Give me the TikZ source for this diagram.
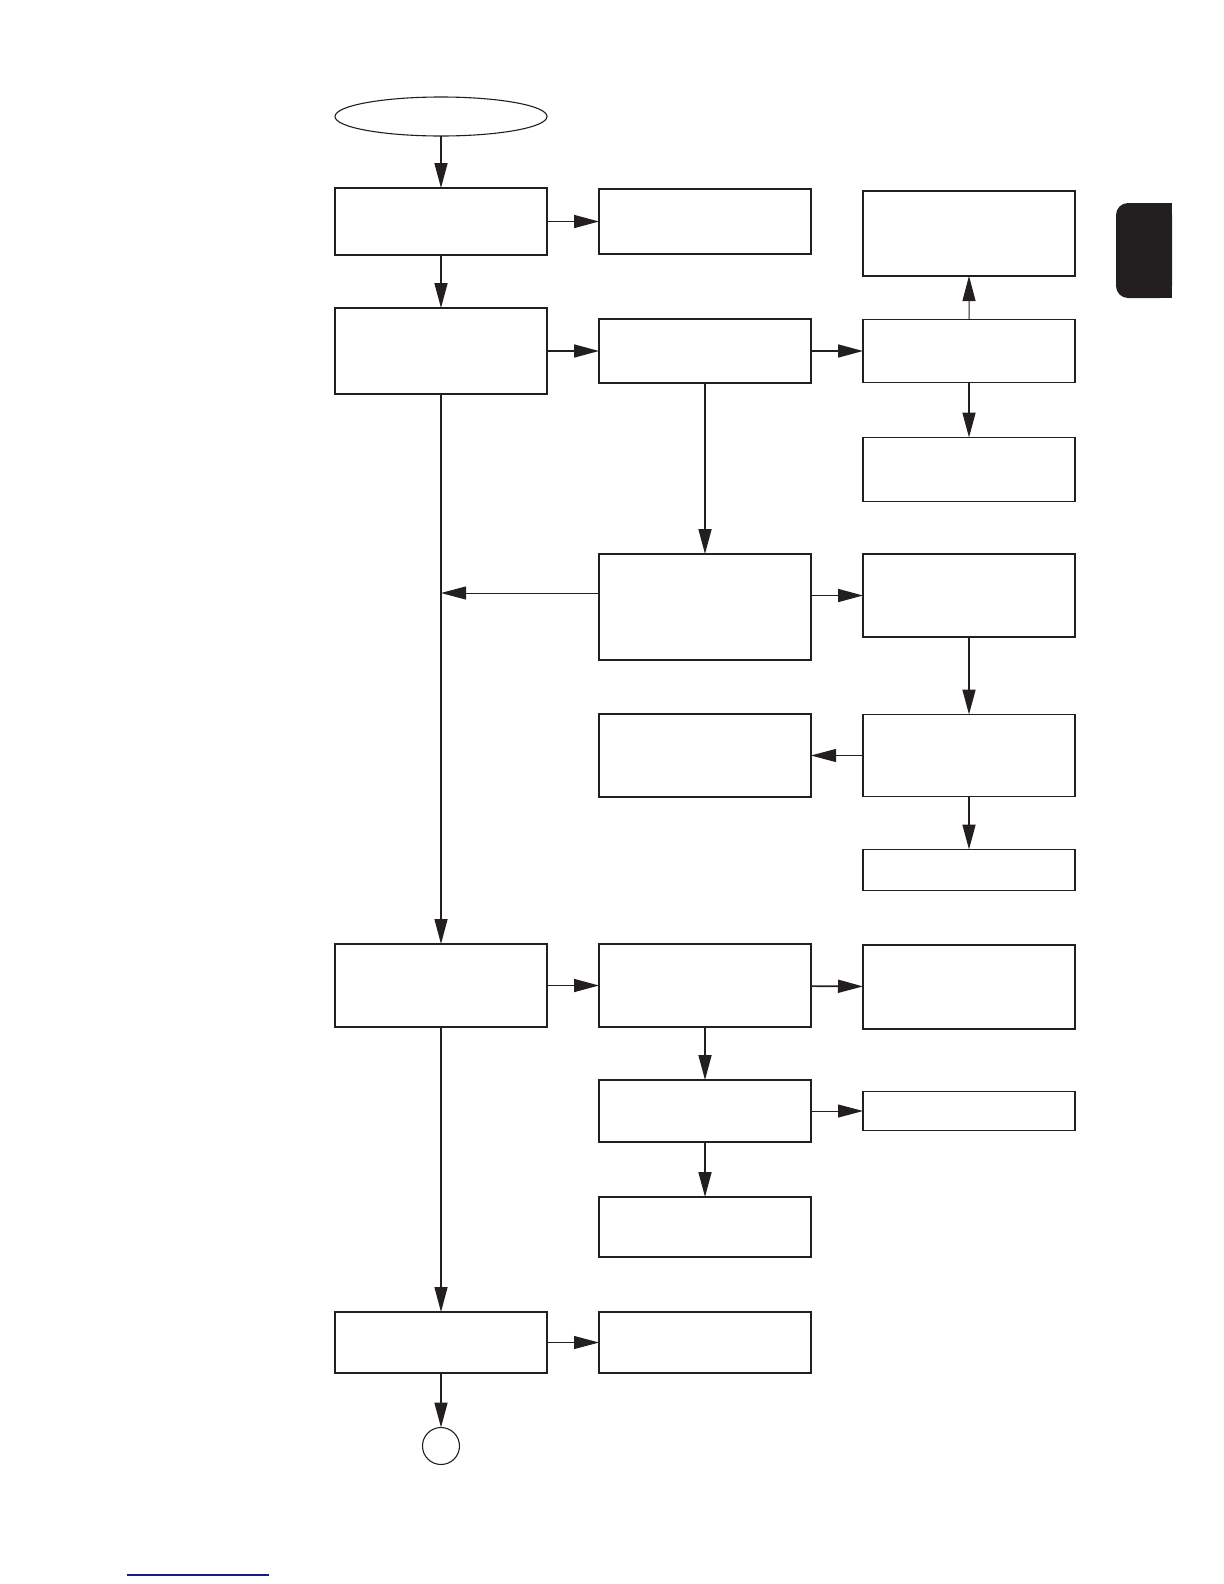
\documentclass[tikz,border=0pt]{standalone}
\usepackage{tikz}
\usetikzlibrary{
  shapes.geometric,
  arrows.meta,
  positioning
}
\definecolor{colLine}{HTML}{231F20}
\definecolor{colTab} {HTML}{231F20}
\definecolor{colLink}{HTML}{1A1A8C}
\tikzset{
  %% generic box
  block/.style={
    draw=colLine, line width=0.6bp,
    minimum width=106bp,
    minimum height=#1,
    inner sep=0pt, outer sep=0pt
  },
  block/.default=32bp,
  %% terminals
  startnode/.style={
    ellipse, draw=colLine, line width=0.55bp,
    minimum width=106bp, minimum height=19.5bp,
    inner sep=0pt, outer sep=0pt
  },
  endnode/.style={
    circle, draw=colLine, line width=0.55bp,
    minimum size=18.5bp, inner sep=0pt, outer sep=0pt
  },
  %% arrows
  arr/.style ={-{Triangle[length=12.5bp,width=6.5bp]}, line width=0.85bp,
               color=colLine},
  tarr/.style={arr, line width=0.5bp}
}

\begin{document}
\begin{tikzpicture}[
  x=0.5bp, y=-0.5bp,
  node distance = 26bp and 26bp,
]
\useasboundingbox (0,0) rectangle (1224,1584);

% ════════════════════════════════════════════════════════════
% COLUMN 1 – MAIN LINE
% ════════════════════════════════════════════════════════════
\node[startnode] (start) at (441,116.5) {};

\node[block=33.5bp] (a1) at (441,221.5) {};
\node[block=43bp]   (b1) at (441,351)   {};
\node[block=41.5bp] (g1) at (441,985.5) {};
\node[block=30.5bp] (j1) at (441,1342.5) {};

\node[endnode] (stop) at (441,1446) {};

% ════════════════════════════════════════════════════════════
% COLUMN 2
% ════════════════════════════════════════════════════════════
\node[block=32.5bp, right=of a1] (a2) {};
\node[block=32bp,   right=of b1] (b2) {};
\node[block=53bp]   (d2) at (705,607)   {};
\node[block=41.5bp] (e2) at (705,755.5) {};
\node[block=41.5bp, right=of g1] (g2) {};
\node[block=31bp,   below=26.5bp of g2] (h2) {};
\node[block=30bp,   below=27.5bp of h2] (i2) {};
\node[block=30.5bp, right=of j1] (j2) {};

% ════════════════════════════════════════════════════════════
% COLUMN 3
% ════════════════════════════════════════════════════════════
\node[block=42.5bp] (a3) at (969,233.5) {};
\node[block=31.5bp, right=of b2] (b3) {};
\node[block=32bp,   below=27.5bp of b3] (c3) {};
\node[block=41.5bp] (d3) at (969,595.5) {};
\node[block=41bp,   right=of e2] (e3) {};
\node[block=20.5bp, below=26.5bp of e3] (f3) {};
\node[block=42bp]   (g3) at (969,987) {};
\node[block=19.5bp, right=of h2] (h3) {};

% side tab and link rule
\fill[colTab, rounded corners=6bp] (1116,203) rectangle (1172,298);
\fill[colTab] (1150,203) rectangle (1172,298);
\draw[colLink, line width=0.6bp] (127,1575) -- (269,1575);

% ════════════════════════════════════════════════════════════
% ARROWS
% ════════════════════════════════════════════════════════════
\draw[arr]  (start) -- (a1);
\draw[arr]  (a1) -- (a2);
\draw[arr]  (a1) -- (b1);
\draw[arr]  (b1) -- (b2);
\draw[arr]  (b2) -- (b3);
\draw[tarr] (b3) -- (a3);
\draw[arr]  (b3) -- (c3);
\draw[arr]  (b2) -- (d2);

% back to the main line
\coordinate (tap) at (441,593);
\draw[tarr] (d2.west |- tap) -- (tap);

\draw[arr]  (d2.east |- d3.west) -- (d3.west);
\draw[arr]  (d3) -- (e3);
\draw[tarr] (e3) -- (e2);
\draw[arr]  (e3) -- (f3);

\draw[arr, line width=0.7bp] (b1) -- (g1);
\draw[arr]  (g1) -- (g2);
\draw[arr]  (g2) -- (g3);
\draw[arr]  (g2) -- (h2);
\draw[tarr] (h2) -- (h3);
\draw[arr]  (h2) -- (i2);

\draw[arr, line width=0.7bp] (g1) -- (j1);
\draw[tarr] (j1) -- (j2);
\draw[arr]  (j1) -- (stop);

\end{tikzpicture}
\end{document}
